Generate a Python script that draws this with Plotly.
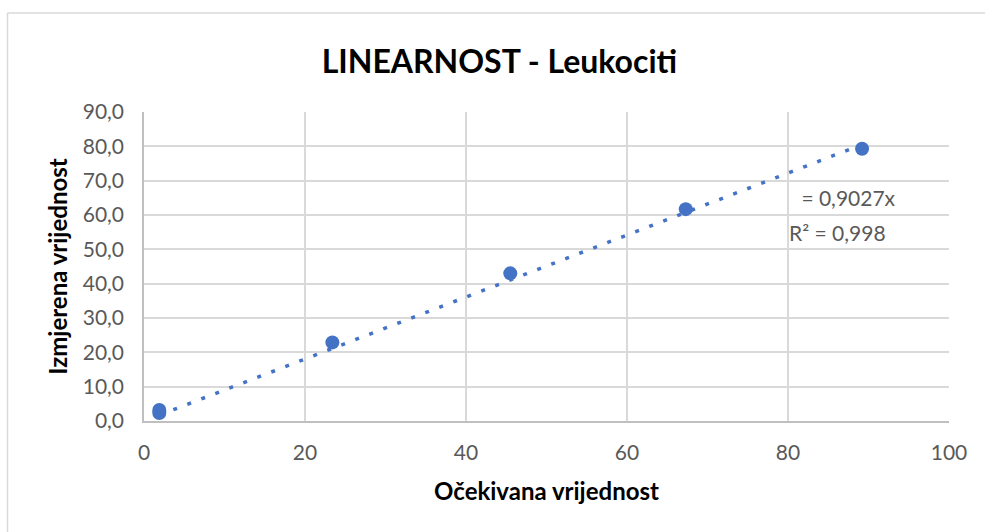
import plotly.graph_objects as go

# Data
expected = [1.9, 1.9, 23.4, 45.5, 67.3, 89.2]
measured = [2.3, 3.2, 22.9, 43.0, 61.7, 79.3]
slope = 0.9027
r2 = 0.998
x_ticks = [0, 20, 40, 60, 80, 100]
y_ticks = [0, 10, 20, 30, 40, 50, 60, 70, 80, 90]

title = "LINEARNOST - Leukociti"
x_title = "Očekivana vrijednost"
y_title = "Izmjerena vrijednost"

W, H = 985, 532
L, R, T, B = 144, 36, 112, 111
pw, ph = W - L - R, H - T - B

FONT = "Lato, 'Open Sans', sans-serif"
BLUE = "#4472C4"
GRAY = "#595959"

fig = go.Figure()

xmin, xmax = min(expected), max(expected)
fig.add_trace(go.Scatter(
    x=[xmin, xmax], y=[slope * xmin, slope * xmax],
    mode="lines", line=dict(color=BLUE, width=3.5, dash="4px,11px"),
    hoverinfo="skip", showlegend=False))

fig.add_trace(go.Scatter(
    x=expected, y=measured, mode="markers",
    marker=dict(color=BLUE, size=14), showlegend=False))

def px_to_paper_x(px):
    return (px - L) / pw

def px_to_paper_y(py):
    return (H - B - py) / ph

# outer chart border (left and top)
fig.add_shape(type="line", xref="paper", yref="paper",
              x0=px_to_paper_x(7.5), x1=px_to_paper_x(7.5),
              y0=px_to_paper_y(13), y1=px_to_paper_y(H + 5),
              line=dict(color="#d9d9d9", width=1.5))
fig.add_shape(type="line", xref="paper", yref="paper",
              x0=px_to_paper_x(7.5), x1=px_to_paper_x(W + 5),
              y0=px_to_paper_y(13), y1=px_to_paper_y(13),
              line=dict(color="#d9d9d9", width=1.5))

fig.add_annotation(x=87.2, y=65.0, xref="x", yref="y",
                   text=" = " + f"{slope:.4f}".replace(".", ",") + "x",
                   showarrow=False, font=dict(family=FONT, size=21, color=GRAY))
fig.add_annotation(x=86.2, y=55.0, xref="x", yref="y",
                   text="R² = " + f"{r2:.3f}".replace(".", ","),
                   showarrow=False, font=dict(family=FONT, size=21, color=GRAY))

fig.update_layout(
    width=W, height=H,
    margin=dict(l=L, r=R, t=T, b=B),
    paper_bgcolor="white", plot_bgcolor="white",
    separators=",.",
    title=dict(text="<b>" + title + "</b>", x=0.507, xanchor="center",
               y=1 - 62 / H, yanchor="middle", yref="container",
               font=dict(family=FONT, size=32, color="black")),
    xaxis=dict(range=[0, 100], tickvals=x_ticks, showgrid=True,
               gridcolor="#d9d9d9", gridwidth=1.5, zeroline=False,
               showline=True, linecolor="#bfbfbf", linewidth=1.5,
               ticks="", ticklabelstandoff=12,
               tickfont=dict(family=FONT, size=21, color=GRAY),
               title=dict(text="<b>" + x_title + "</b>", standoff=20,
                          font=dict(family=FONT, size=24, color="black"))),
    yaxis=dict(range=[0, 90], tickvals=y_ticks, tickformat=".1f",
               showgrid=True, gridcolor="#d9d9d9", gridwidth=1.5,
               zeroline=False, showline=True, linecolor="#bfbfbf", linewidth=1.5,
               ticks="", ticklabelstandoff=14,
               tickfont=dict(family=FONT, size=21, color=GRAY),
               title=dict(text="<b>" + y_title + "</b>", standoff=8,
                          font=dict(family=FONT, size=24, color="black"))),
)

fig.write_html("out.html",
               config={"displayModeBar": False},
               post_script="document.body.style.margin='0';"
                           "document.body.style.overflow='hidden';")
